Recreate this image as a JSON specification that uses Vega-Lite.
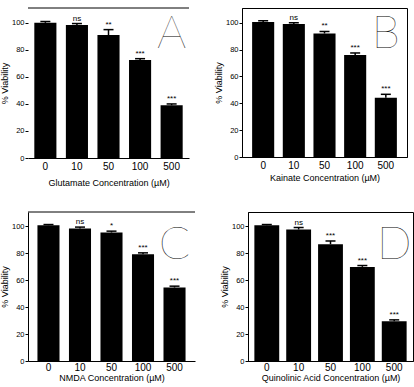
{
  "$schema": "https://vega.github.io/schema/vega-lite/v6.json",
  "padding": {"left": 0, "top": 7, "right": 0, "bottom": 0},
  "background": "white",
  "config": {
    "font": "Liberation Sans",
    "view": {"stroke": null},
    "axis": {"labelColor": "black", "titleColor": "black", "domainColor": "black", "tickColor": "black", "grid": false, "titleFontWeight": "normal"},
    "axisY": {"labelFontSize": 7.5, "tickSize": 3, "labelPadding": 1, "titleFontSize": 9, "titlePadding": 2, "values": [0, 10, 20, 30, 40, 50, 60, 70, 80, 90, 100]},
    "axisX": {"labelFontSize": 10, "labelAngle": 0, "ticks": false, "labelPadding": 3, "titleFontSize": 9, "titlePadding": 4},
    "text": {"color": "black"},
    "concat": {"spacing": 23}
  },
  "datasets": {
    "bars": [
      {"panel": "A", "conc": "0", "v": 100, "hi": 101, "sig": ""},
      {"panel": "A", "conc": "10", "v": 98.5, "hi": 99.5, "sig": "ns"},
      {"panel": "A", "conc": "50", "v": 91, "hi": 95, "sig": "**"},
      {"panel": "A", "conc": "100", "v": 72.5, "hi": 73.5, "sig": "***"},
      {"panel": "A", "conc": "500", "v": 39, "hi": 40, "sig": "***"},
      {"panel": "B", "conc": "0", "v": 100.5, "hi": 101.5, "sig": ""},
      {"panel": "B", "conc": "10", "v": 99, "hi": 100, "sig": "ns"},
      {"panel": "B", "conc": "50", "v": 92, "hi": 93.5, "sig": "**"},
      {"panel": "B", "conc": "100", "v": 76, "hi": 77.5, "sig": "***"},
      {"panel": "B", "conc": "500", "v": 44.2, "hi": 46.7, "sig": "***"},
      {"panel": "C", "conc": "0", "v": 100.7, "hi": 101.2, "sig": ""},
      {"panel": "C", "conc": "10", "v": 98.3, "hi": 99.3, "sig": "ns"},
      {"panel": "C", "conc": "50", "v": 95.3, "hi": 96.3, "sig": "*"},
      {"panel": "C", "conc": "100", "v": 79.2, "hi": 80.2, "sig": "***"},
      {"panel": "C", "conc": "500", "v": 54.5, "hi": 55.5, "sig": "***"},
      {"panel": "D", "conc": "0", "v": 100.7, "hi": 101.2, "sig": ""},
      {"panel": "D", "conc": "10", "v": 97.5, "hi": 99, "sig": "ns"},
      {"panel": "D", "conc": "50", "v": 86.6, "hi": 89, "sig": "***"},
      {"panel": "D", "conc": "100", "v": 69.8, "hi": 70.8, "sig": "***"},
      {"panel": "D", "conc": "500", "v": 29.5, "hi": 30.5, "sig": "***"}
    ]
  },
  "vconcat": [
    {
      "hconcat": [
        {
          "width": 161, "height": 150,
          "data": {"name": "bars"},
          "transform": [{"filter": "datum.panel == 'A'"}],
          "layer": [
            {"mark": {"type": "bar", "color": "black"}, "encoding": {
              "x": {"field": "conc", "type": "ordinal", "sort": ["0", "10", "50", "100", "500"], "scale": {"paddingInner": 0.3, "paddingOuter": 0.2}, "axis": {"title": "Glutamate Concentration (µM)", "titlePadding": 7}},
              "y": {"field": "v", "type": "quantitative", "scale": {"domain": [0, 111], "nice": false}, "axis": {"title": "% Viability", "domain": false}}}},
            {"mark": {"type": "rule", "color": "black", "strokeWidth": 1.5}, "encoding": {"x": {"field": "conc", "type": "ordinal", "sort": ["0", "10", "50", "100", "500"]}, "y": {"field": "v", "type": "quantitative"}, "y2": {"field": "hi"}}},
            {"mark": {"type": "tick", "color": "black", "thickness": 1.5, "size": 10, "opacity": 1}, "encoding": {"x": {"field": "conc", "type": "ordinal", "sort": ["0", "10", "50", "100", "500"]}, "y": {"field": "hi", "type": "quantitative"}}},
            {"mark": {"type": "text", "baseline": "bottom", "dy": -1, "fontSize": 8}, "encoding": {"x": {"field": "conc", "type": "ordinal", "sort": ["0", "10", "50", "100", "500"]}, "y": {"field": "hi", "type": "quantitative"}, "text": {"field": "sig"}}},
            {"data": {"values": [{}]}, "mark": {"type": "rule", "color": "black", "strokeWidth": 1}, "encoding": {"y": {"datum": 111}}},
            {"data": {"values": [{"l": "A"}]}, "mark": {"type": "text", "font": "Lato", "fontWeight": 100, "fontSize": 46, "baseline": "middle"}, "encoding": {"x": {"datum": "500"}, "y": {"datum": 92}, "text": {"field": "l"}}}
          ]
        },
        {
          "width": 165, "height": 149,
          "view": {"stroke": "black"},
          "data": {"name": "bars"},
          "transform": [{"filter": "datum.panel == 'B'"}],
          "layer": [
            {"mark": {"type": "bar", "color": "black"}, "encoding": {
              "x": {"field": "conc", "type": "ordinal", "sort": ["0", "10", "50", "100", "500"], "scale": {"paddingInner": 0.28, "paddingOuter": 0.33}, "axis": {"title": "Kainate Concentration (µM)", "titlePadding": 3}},
              "y": {"field": "v", "type": "quantitative", "scale": {"domain": [0, 111], "nice": false}, "axis": {"title": "% Viability"}}}},
            {"mark": {"type": "rule", "color": "black", "strokeWidth": 1.5}, "encoding": {"x": {"field": "conc", "type": "ordinal", "sort": ["0", "10", "50", "100", "500"]}, "y": {"field": "v", "type": "quantitative"}, "y2": {"field": "hi"}}},
            {"mark": {"type": "tick", "color": "black", "thickness": 1.5, "size": 10, "opacity": 1}, "encoding": {"x": {"field": "conc", "type": "ordinal", "sort": ["0", "10", "50", "100", "500"]}, "y": {"field": "hi", "type": "quantitative"}}},
            {"mark": {"type": "text", "baseline": "bottom", "dy": -1, "fontSize": 8}, "encoding": {"x": {"field": "conc", "type": "ordinal", "sort": ["0", "10", "50", "100", "500"]}, "y": {"field": "hi", "type": "quantitative"}, "text": {"field": "sig"}}},
            {"data": {"values": [{"l": "B"}]}, "mark": {"type": "text", "font": "Lato", "fontWeight": 100, "fontSize": 46, "baseline": "middle"}, "encoding": {"x": {"datum": "500"}, "y": {"datum": 92}, "text": {"field": "l"}}}
          ]
        }
      ]
    },
    {
      "hconcat": [
        {
          "width": 167, "height": 149,
          "data": {"name": "bars"},
          "transform": [{"filter": "datum.panel == 'C'"}],
          "layer": [
            {"mark": {"type": "bar", "color": "black"}, "encoding": {
              "x": {"field": "conc", "type": "ordinal", "sort": ["0", "10", "50", "100", "500"], "scale": {"paddingInner": 0.3, "paddingOuter": 0.3}, "axis": {"title": "NMDA Concentration (µM)", "titlePadding": 1, "labelPadding": 1}},
              "y": {"field": "v", "type": "quantitative", "scale": {"domain": [0, 110.5], "nice": false}, "axis": {"title": "% Viability"}}}},
            {"mark": {"type": "rule", "color": "black", "strokeWidth": 1.5}, "encoding": {"x": {"field": "conc", "type": "ordinal", "sort": ["0", "10", "50", "100", "500"]}, "y": {"field": "v", "type": "quantitative"}, "y2": {"field": "hi"}}},
            {"mark": {"type": "tick", "color": "black", "thickness": 1.5, "size": 10, "opacity": 1}, "encoding": {"x": {"field": "conc", "type": "ordinal", "sort": ["0", "10", "50", "100", "500"]}, "y": {"field": "hi", "type": "quantitative"}}},
            {"mark": {"type": "text", "baseline": "bottom", "dy": -1, "fontSize": 8}, "encoding": {"x": {"field": "conc", "type": "ordinal", "sort": ["0", "10", "50", "100", "500"]}, "y": {"field": "hi", "type": "quantitative"}, "text": {"field": "sig"}}},
            {"data": {"values": [{}]}, "mark": {"type": "rule", "color": "black", "strokeWidth": 1}, "encoding": {"y": {"datum": 110.5}}},
            {"data": {"values": [{"l": "C"}]}, "mark": {"type": "text", "font": "Lato", "fontWeight": 100, "fontSize": 46, "baseline": "middle"}, "encoding": {"x": {"datum": "500"}, "y": {"datum": 86}, "text": {"field": "l"}}}
          ]
        },
        {
          "width": 165, "height": 149,
          "view": {"stroke": "black"},
          "data": {"name": "bars"},
          "transform": [{"filter": "datum.panel == 'D'"}],
          "layer": [
            {"mark": {"type": "bar", "color": "black"}, "encoding": {
              "x": {"field": "conc", "type": "ordinal", "sort": ["0", "10", "50", "100", "500"], "scale": {"paddingInner": 0.22, "paddingOuter": 0.2}, "axis": {"title": "Quinolinic Acid Concentration (µM)", "titlePadding": 1, "labelPadding": 1}},
              "y": {"field": "v", "type": "quantitative", "scale": {"domain": [0, 110.5], "nice": false}, "axis": {"title": "% Viability"}}}},
            {"mark": {"type": "rule", "color": "black", "strokeWidth": 1.5}, "encoding": {"x": {"field": "conc", "type": "ordinal", "sort": ["0", "10", "50", "100", "500"]}, "y": {"field": "v", "type": "quantitative"}, "y2": {"field": "hi"}}},
            {"mark": {"type": "tick", "color": "black", "thickness": 1.5, "size": 10, "opacity": 1}, "encoding": {"x": {"field": "conc", "type": "ordinal", "sort": ["0", "10", "50", "100", "500"]}, "y": {"field": "hi", "type": "quantitative"}}},
            {"mark": {"type": "text", "baseline": "bottom", "dy": -1, "fontSize": 8}, "encoding": {"x": {"field": "conc", "type": "ordinal", "sort": ["0", "10", "50", "100", "500"]}, "y": {"field": "hi", "type": "quantitative"}, "text": {"field": "sig"}}},
            {"data": {"values": [{"l": "D"}]}, "mark": {"type": "text", "font": "Lato", "fontWeight": 100, "fontSize": 46, "baseline": "middle"}, "encoding": {"x": {"datum": "500"}, "y": {"datum": 86}, "text": {"field": "l"}}}
          ]
        }
      ]
    }
  ],
  "spacing": 24
}
